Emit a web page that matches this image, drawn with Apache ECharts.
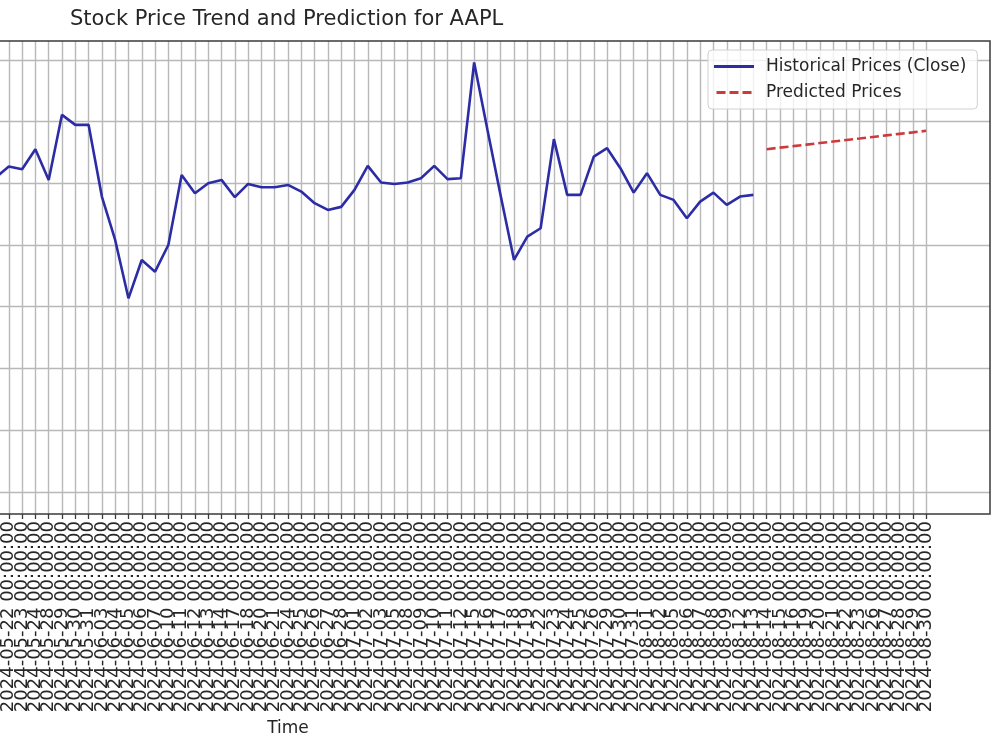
<!DOCTYPE html>
<html>
<head>
<meta charset="utf-8">
<script src="https://cdn.jsdelivr.net/npm/echarts@6/dist/echarts.min.js"></script>
<style>
  html, body { margin: 0; padding: 0; background: #ffffff; width: 1000px; height: 750px; overflow: hidden; }
  #chart { width: 1414px; height: 750px; margin-left: -414px; }
</style>
</head>
<body>
<div id="chart"></div>
<script>
// ---- data ----
const historicalDates = [
  "2024-04-15 00:00:00","2024-04-16 00:00:00","2024-04-17 00:00:00","2024-04-18 00:00:00","2024-04-19 00:00:00",
  "2024-04-22 00:00:00","2024-04-23 00:00:00","2024-04-24 00:00:00","2024-04-25 00:00:00","2024-04-26 00:00:00",
  "2024-04-29 00:00:00","2024-04-30 00:00:00","2024-05-01 00:00:00","2024-05-02 00:00:00","2024-05-03 00:00:00",
  "2024-05-06 00:00:00","2024-05-07 00:00:00","2024-05-08 00:00:00","2024-05-09 00:00:00","2024-05-10 00:00:00",
  "2024-05-13 00:00:00","2024-05-14 00:00:00","2024-05-15 00:00:00","2024-05-16 00:00:00","2024-05-17 00:00:00",
  "2024-05-20 00:00:00","2024-05-21 00:00:00","2024-05-22 00:00:00","2024-05-23 00:00:00","2024-05-24 00:00:00",
  "2024-05-28 00:00:00","2024-05-29 00:00:00","2024-05-30 00:00:00","2024-05-31 00:00:00","2024-06-03 00:00:00",
  "2024-06-04 00:00:00","2024-06-05 00:00:00","2024-06-06 00:00:00","2024-06-07 00:00:00","2024-06-10 00:00:00",
  "2024-06-11 00:00:00","2024-06-12 00:00:00","2024-06-13 00:00:00","2024-06-14 00:00:00","2024-06-17 00:00:00",
  "2024-06-18 00:00:00","2024-06-20 00:00:00","2024-06-21 00:00:00","2024-06-24 00:00:00","2024-06-25 00:00:00",
  "2024-06-26 00:00:00","2024-06-27 00:00:00","2024-06-28 00:00:00","2024-07-01 00:00:00","2024-07-02 00:00:00",
  "2024-07-03 00:00:00","2024-07-05 00:00:00","2024-07-08 00:00:00","2024-07-09 00:00:00","2024-07-10 00:00:00",
  "2024-07-11 00:00:00","2024-07-12 00:00:00","2024-07-15 00:00:00","2024-07-16 00:00:00","2024-07-17 00:00:00",
  "2024-07-18 00:00:00","2024-07-19 00:00:00","2024-07-22 00:00:00","2024-07-23 00:00:00","2024-07-24 00:00:00",
  "2024-07-25 00:00:00","2024-07-26 00:00:00","2024-07-29 00:00:00","2024-07-30 00:00:00","2024-07-31 00:00:00",
  "2024-08-01 00:00:00","2024-08-02 00:00:00","2024-08-05 00:00:00","2024-08-06 00:00:00","2024-08-07 00:00:00",
  "2024-08-08 00:00:00","2024-08-09 00:00:00","2024-08-12 00:00:00","2024-08-13 00:00:00"
];
const predictedDates = [
  "2024-08-14 00:00:00","2024-08-15 00:00:00","2024-08-16 00:00:00","2024-08-19 00:00:00","2024-08-20 00:00:00",
  "2024-08-21 00:00:00","2024-08-22 00:00:00","2024-08-23 00:00:00","2024-08-26 00:00:00","2024-08-27 00:00:00",
  "2024-08-28 00:00:00","2024-08-29 00:00:00","2024-08-30 00:00:00"
];
const historicalClose = [
  163.2, 161.5, 159.9, 162.8, 166.4, 165.1, 169.7, 172.3, 170.8, 175.6,
  178.9, 176.2, 181.4, 184.7, 183.0, 187.9, 191.2, 189.5, 194.8, 198.3,
  196.6, 201.9, 205.2, 203.7, 207.9, 209.6, 210.9,
  212.70, 212.28, 215.52, 210.54, 221.08, 219.46, 219.46, 207.84, 200.81, 191.36,
  197.57, 195.67, 200.00, 211.35, 208.39, 210.01, 210.54, 207.74, 209.89, 209.36,
  209.36, 209.73, 208.65, 206.77, 205.68, 206.17, 208.92, 212.81, 210.11, 209.89,
  210.11, 210.82, 212.81, 210.66, 210.82, 229.56, 218.65, 207.95, 197.57, 201.35,
  202.71, 217.14, 208.11, 208.11, 214.32, 215.68, 212.44, 208.48, 211.63, 208.11,
  207.30, 204.33, 207.02, 208.48, 206.49, 207.84, 208.11
];
const predictedPrices = [
  215.52, 215.77, 216.01, 216.26, 216.51, 216.76, 217.01, 217.25, 217.50, 217.75,
  218.00, 218.24, 218.49
];
const yTickMin = 160, yTickMax = 230, yTickStep = 10;

// ---- layout: a matplotlib-like axes whose left part lies outside the 1000px page ----
const SHIFT = 414;                 // chart canvas starts 414px left of the page
const CW = 1414, CH = 750;
const frame = { left: 0, right: 990 + SHIFT, top: 41, bottom: 514 };
const categories = historicalDates.concat(predictedDates);
const allVals = historicalClose.concat(predictedPrices);
const dMin = Math.min.apply(null, allVals), dMax = Math.max.apply(null, allVals);
const yMin = dMin - 0.05 * (dMax - dMin), yMax = dMax + 0.05 * (dMax - dMin);
const frameH = frame.bottom - frame.top;
const pix = v => frame.top + (yMax - v) / (yMax - yMin) * frameH;
const dataW = (frame.right - frame.left) / 1.1;
const xMargin = 0.05 * dataW;

const histSeries = historicalClose.slice();
const predSeries = historicalClose.map(() => '-').concat(predictedPrices);

const FONT = 'DejaVu Sans';
const BLUE = '#2c2ca6', RED = '#cc3b3b', GRIDC = '#b8b8b8', TXT = '#262626';
const chart = echarts.init(document.getElementById('chart'), null, { renderer: 'canvas', width: CW, height: CH });
chart.setOption({
  animation: false,
  backgroundColor: '#ffffff',
  title: {
    text: 'Stock Price Trend and Prediction for AAPL',
    left: 70 + SHIFT, top: 9, padding: 0,
    textStyle: { fontFamily: FONT, fontSize: 21, fontWeight: 'normal', color: TXT }
  },
  legend: {
    orient: 'vertical',
    left: 708 + SHIFT, top: 50,
    padding: [8, 11, 8, 6],
    backgroundColor: 'rgba(255,255,255,0.8)',
    borderColor: '#d0d0d0', borderWidth: 1, borderRadius: 4,
    itemWidth: 40, itemHeight: 3, itemGap: 9,
    textStyle: { fontFamily: FONT, fontSize: 17, color: TXT, lineHeight: 17, padding: [0, 0, 0, 7] },
    data: [
      { name: 'Historical Prices (Close)', icon: 'path://M0,0H40V3H0Z' },
      { name: 'Predicted Prices', icon: 'path://M0,0H9V3H0Z M13,0H22V3H13Z M26,0H35V3H26Z' }
    ]
  },
  grid: [
    { // axes frame
      left: frame.left, right: CW - frame.right, top: frame.top, bottom: CH - frame.bottom,
      show: true, borderColor: '#3a3a3a', borderWidth: 1.5, backgroundColor: 'transparent', z: 3
    },
    { // horizontal grid lines at the y ticks
      left: frame.left, right: CW - frame.right, top: pix(yTickMax), bottom: CH - pix(yTickMin)
    },
    { // data area (5% margins like matplotlib)
      left: frame.left + xMargin, right: CW - (frame.right - xMargin), top: frame.top, bottom: CH - frame.bottom
    }
  ],
  xAxis: [
    { gridIndex: 0, type: 'value', min: 0, max: 1, show: false },
    { gridIndex: 1, type: 'value', min: 0, max: 1, show: false },
    {
      gridIndex: 2, type: 'category', data: categories, boundaryGap: false,
      name: 'Time', nameLocation: 'middle', nameGap: 206,
      nameTextStyle: { fontFamily: FONT, fontSize: 17, color: TXT },
      axisLine: { show: false },
      axisTick: { show: true, interval: 0, length: 5, lineStyle: { color: '#3a3a3a', width: 1.3 } },
      axisLabel: { interval: 0, rotate: 90, margin: 7, fontFamily: FONT, fontSize: 18, color: TXT },
      splitLine: { show: true, interval: 0, lineStyle: { color: GRIDC, width: 1.4 } }
    }
  ],
  yAxis: [
    { gridIndex: 0, type: 'value', min: 0, max: 1, show: false },
    {
      gridIndex: 1, type: 'value', min: yTickMin, max: yTickMax, interval: yTickStep,
      axisLine: { show: false }, axisTick: { show: false }, axisLabel: { show: false },
      splitLine: { show: true, lineStyle: { color: GRIDC, width: 1.4 } }
    },
    {
      gridIndex: 2, type: 'value', min: yMin, max: yMax,
      axisLine: { show: false }, axisTick: { show: false }, axisLabel: { show: false },
      splitLine: { show: false }
    }
  ],
  series: [
    {
      name: 'Historical Prices (Close)', type: 'line', xAxisIndex: 2, yAxisIndex: 2,
      data: histSeries, symbol: 'none', z: 4,
      lineStyle: { color: BLUE, width: 2.6 }, itemStyle: { color: BLUE }
    },
    {
      name: 'Predicted Prices', type: 'line', xAxisIndex: 2, yAxisIndex: 2,
      data: predSeries, symbol: 'none', z: 4,
      lineStyle: { color: RED, width: 2.6, type: [9, 4] }, itemStyle: { color: RED }
    }
  ]
});
</script>
</body>
</html>
